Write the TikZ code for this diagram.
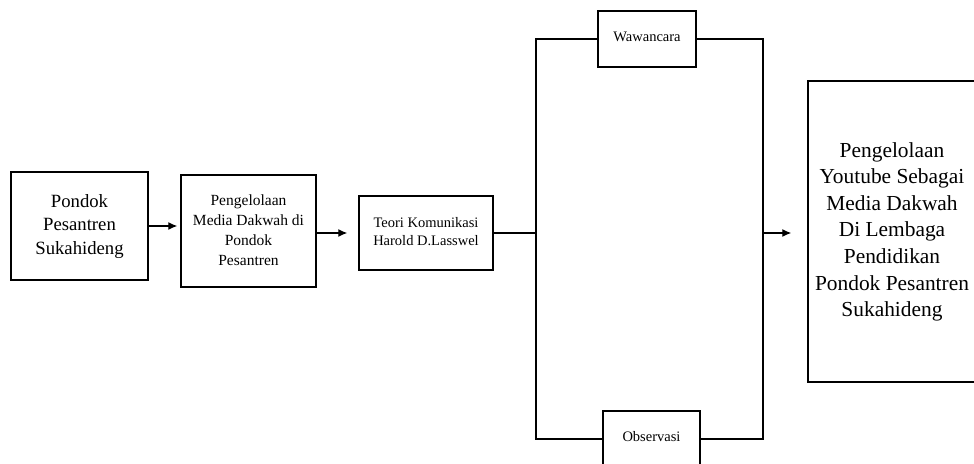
\documentclass[tikz,border=0pt]{standalone}
\usepackage{fontspec}
\setmainfont{Liberation Serif}
\usetikzlibrary{arrows.meta}
\begin{document}
\begin{tikzpicture}[x=1pt,y=-1pt,
  box/.style={draw=black,line width=1.4pt,rectangle,inner sep=0pt,align=center},
  conn/.style={draw=black,line width=1.3pt},
  arr/.style={conn,-{Latex[length=9pt,width=8pt]}}]
\useasboundingbox (0,0) rectangle (974,463);
\begin{scope}
\clip (0,0) rectangle (974,463);
\node[box,minimum width=137pt,minimum height=108pt,font=\fontsize{18.7}{23.5}\selectfont] (b1) at (79.5,226) {\raisebox{4pt}{\begin{tabular}{@{}c@{}}Pondok\\Pesantren\\Sukahideng\end{tabular}}};
\node[box,minimum width=135pt,minimum height=112pt,font=\fontsize{15.5}{20}\selectfont] (b2) at (248.5,231) {\raisebox{4pt}{\begin{tabular}{@{}c@{}}Pengelolaan\\Media Dakwah di\\Pondok\\Pesantren\end{tabular}}};
\node[box,minimum width=134pt,minimum height=74pt,font=\fontsize{14.5}{18}\selectfont] (b3) at (426,233) {\raisebox{4pt}{\begin{tabular}{@{}c@{}}Teori Komunikasi\\Harold D.Lasswel\end{tabular}}};
\node[box,minimum width=98pt,minimum height=56pt,font=\fontsize{14.5}{18}\selectfont] (waw) at (647,39) {\raisebox{4pt}{Wawancara}};
\node[box,minimum width=97pt,minimum height=56pt,font=\fontsize{14.5}{18}\selectfont] (obs) at (651.5,439) {\raisebox{6pt}{Observasi}};
\node[box,minimum width=168pt,minimum height=301pt,font=\fontsize{21.4}{26.6}\selectfont] (fin) at (892,231.5) {\raisebox{5pt}{\begin{tabular}{@{}c@{}}Pengelolaan\\Youtube Sebagai\\Media Dakwah\\Di Lembaga\\Pendidikan\\Pondok Pesantren\\Sukahideng\end{tabular}}};
\end{scope}
\coordinate (jl) at (536,233);
\coordinate (jr) at (763,233);
\draw[arr,shorten >=3pt] (b1.east) -- (b1.east -| b2.west);
\draw[arr,shorten >=11pt] (b2.east |- b3.west) -- (b3.west);
\draw[conn] (b3.east) -- (jl);
\draw[conn] (waw.west) -| (jl) |- (obs.west);
\draw[conn] (waw.east) -| (jr) |- (obs.east);
\draw[arr,shorten >=16pt] (jr) -- (fin.west |- jr);
\end{tikzpicture}
\end{document}
